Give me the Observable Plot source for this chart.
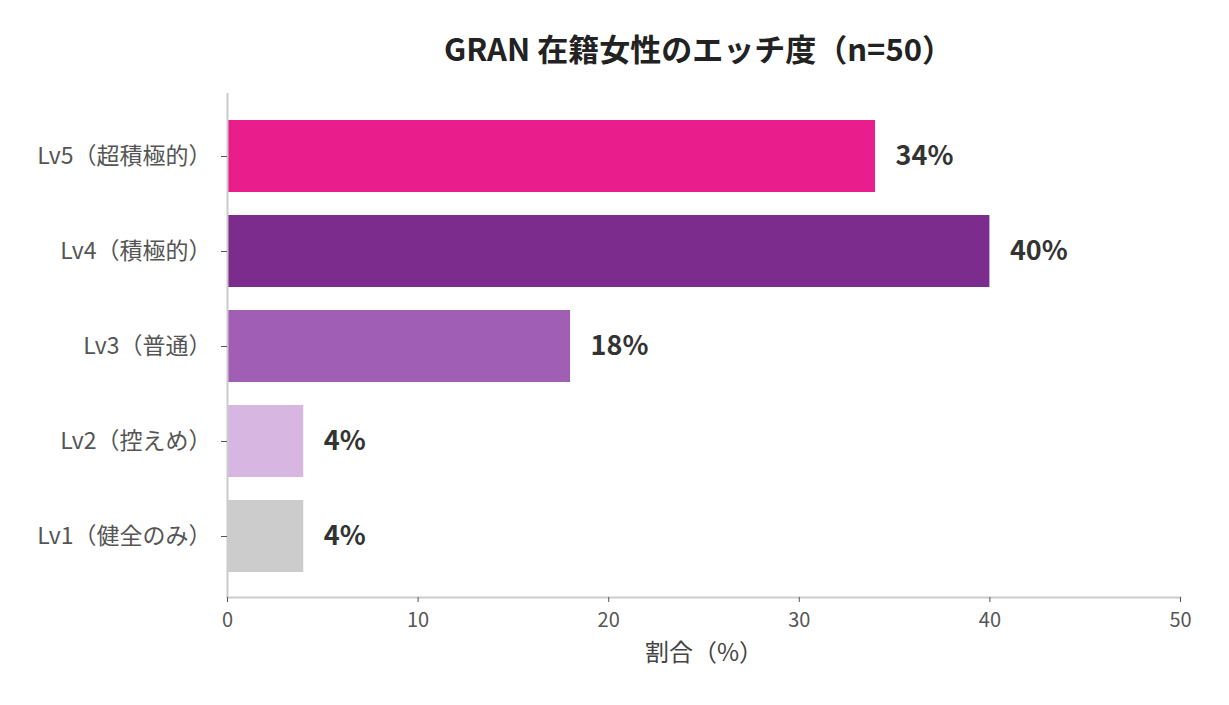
<!DOCTYPE html>
<html><head><meta charset="utf-8">
<script src="https://cdn.jsdelivr.net/npm/d3@7"></script>
<script src="https://cdn.jsdelivr.net/npm/@observablehq/plot@0.6"></script>
<style>
body{margin:0;background:#fff;font-family:"Noto Sans CJK JP","Noto Sans",sans-serif;}
#title{height:93px;width:1229px;box-sizing:border-box;padding-left:168px;text-align:center;font-size:31px;font-weight:700;color:#222;line-height:96px;}
</style></head>
<body>
<div id="title">GRAN 在籍女性のエッチ度（n=50）</div>
<div id="chart"></div>
<script>
const levels = ["Lv5（超積極的）","Lv4（積極的）","Lv3（普通）","Lv2（控えめ）","Lv1（健全のみ）"];
const shares = [34, 40, 18, 4, 4];
const colors = ["#E91E8C","#7B2C8C","#A15EB5","#D7B6E1","#CCCCCC"];
const xTicks = [0,10,20,30,40,50];
const xLabel = "割合（%）";

const data = levels.map((l,i)=>({level:l, value:shares[i], color:colors[i], label:shares[i]+"%"}));

const chart = Plot.plot({
  width:1229, height:612,
  marginLeft:227, marginRight:49, marginTop:0, marginBottom:108,
  style:{fontFamily:'"Noto Sans CJK JP","Noto Sans",sans-serif', background:"#fff"},
  x:{domain:[0,50], ticks:xTicks},
  y:{domain:levels, paddingInner:0.245, paddingOuter:0.1225, insetTop:14, insetBottom:13},
  marks:[
    Plot.barX(data,{x:"value", y:"level", fill:"color"}),
    Plot.text(data,{x:"value", y:"level", text:"label", textAnchor:"start", dx:20, fontSize:27, fontWeight:700, fill:"#333"}),
    Plot.ruleX([0],{stroke:"#ccc", strokeWidth:2}),
    Plot.frame({anchor:"bottom", stroke:"#ccc", strokeWidth:2}),
    Plot.axisY({tickSize:6, tickPadding:10, fontSize:23, color:"#555", stroke:"#555", label:null}),
    Plot.axisX({ticks:xTicks, tickSize:5, tickPadding:10, fontSize:20, color:"#555", stroke:"#555", label:null}),
    Plot.text([xLabel],{frameAnchor:"bottom", dy:63, fontSize:24, fill:"#444", text:d=>d})
  ]
});
document.getElementById("chart").appendChild(chart);
</script>
</body></html>
